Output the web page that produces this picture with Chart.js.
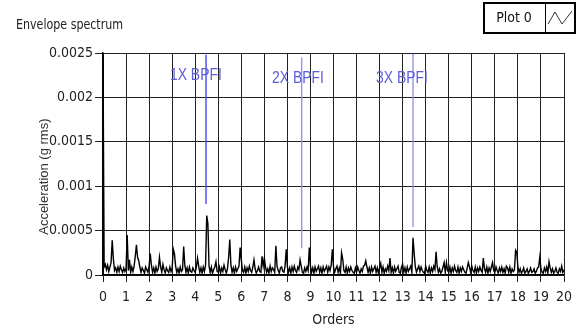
<!DOCTYPE html>
<html>
<head>
<meta charset="utf-8">
<script src="https://cdn.jsdelivr.net/npm/chart.js@4"></script>
<style>
  html, body { margin: 0; padding: 0; background: #ffffff; }
  #wrap { width: 584px; height: 329px; position: relative; }
</style>
</head>
<body>
<div id="wrap"><canvas id="c" width="584" height="329"></canvas></div>
<script>
// Spectrum resolution (orders per bin) and envelope amplitude per bin (g rms)
const ORDER_START = 0;
const ORDER_STEP = 0.05;
const AMPLITUDE = [
  245e-5, 9e-5, 12e-5, 6e-5, 11e-5, 4e-5, 9e-5, 14e-5, 39e-5, 18e-5, 5e-5, 8e-5, 3e-5, 9e-5, 4e-5, 10e-5, 6e-5, 3e-5, 8e-5, 4e-5,
  7e-5, 45e-5, 5e-5, 17e-5, 3e-5, 9e-5, 4e-5, 10e-5, 21e-5, 34e-5, 20e-5, 16e-5, 9e-5, 3e-5, 8e-5, 5e-5, 2e-5, 9e-5, 6e-5, 3e-5,
  10e-5, 24e-5, 11e-5, 3e-5, 8e-5, 2e-5, 9e-5, 4e-5, 7e-5, 20e-5, 9e-5, 3e-5, 12e-5, 6e-5, 2e-5, 8e-5, 5e-5, 3e-5, 9e-5, 4e-5,
  8e-5, 29e-5, 24e-5, 10e-5, 3e-5, 7e-5, 2e-5, 9e-5, 4e-5, 6e-5, 32e-5, 11e-5, 3e-5, 8e-5, 2e-5, 9e-5, 4e-5, 3e-5, 8e-5, 5e-5,
  3e-5, 9e-5, 19e-5, 10e-5, 3e-5, 8e-5, 2e-5, 9e-5, 4e-5, 11e-5, 67e-5, 58e-5, 10e-5, 3e-5, 9e-5, 2e-5, 6e-5, 9e-5, 15e-5, 4e-5,
  3e-5, 9e-5, 2e-5, 8e-5, 4e-5, 11e-5, 6e-5, 2e-5, 7e-5, 20e-5, 40e-5, 11e-5, 3e-5, 8e-5, 2e-5, 9e-5, 4e-5, 7e-5, 10e-5, 31e-5,
  17e-5, 5e-5, 3e-5, 9e-5, 2e-5, 8e-5, 4e-5, 10e-5, 5e-5, 3e-5, 9e-5, 17e-5, 7e-5, 2e-5, 5e-5, 9e-5, 4e-5, 3e-5, 21e-5, 10e-5,
  19e-5, 9e-5, 3e-5, 7e-5, 2e-5, 10e-5, 4e-5, 8e-5, 6e-5, 3e-5, 33e-5, 10e-5, 5e-5, 2e-5, 8e-5, 9e-5, 4e-5, 3e-5, 10e-5, 29e-5,
  9e-5, 3e-5, 8e-5, 2e-5, 9e-5, 4e-5, 10e-5, 5e-5, 3e-5, 9e-5, 6e-5, 17e-5, 10e-5, 3e-5, 2e-5, 8e-5, 4e-5, 9e-5, 5e-5, 31e-5,
  10e-5, 3e-5, 8e-5, 2e-5, 9e-5, 4e-5, 7e-5, 10e-5, 3e-5, 8e-5, 2e-5, 9e-5, 4e-5, 7e-5, 10e-5, 3e-5, 9e-5, 5e-5, 11e-5, 29e-5,
  9e-5, 3e-5, 7e-5, 10e-5, 3e-5, 8e-5, 2e-5, 25e-5, 18e-5, 5e-5, 3e-5, 9e-5, 2e-5, 8e-5, 4e-5, 9e-5, 5e-5, 3e-5, 2e-5, 8e-5,
  3e-5, 9e-5, 5e-5, 2e-5, 7e-5, 4e-5, 10e-5, 11e-5, 16e-5, 9e-5, 3e-5, 8e-5, 2e-5, 9e-5, 4e-5, 7e-5, 10e-5, 3e-5, 8e-5, 2e-5,
  8e-5, 13e-5, 3e-5, 9e-5, 2e-5, 7e-5, 4e-5, 10e-5, 5e-5, 19e-5, 3e-5, 8e-5, 2e-5, 9e-5, 4e-5, 7e-5, 10e-5, 3e-5, 2e-5, 9e-5,
  12e-5, 3e-5, 8e-5, 2e-5, 9e-5, 4e-5, 7e-5, 10e-5, 3e-5, 42e-5, 24e-5, 9e-5, 3e-5, 7e-5, 10e-5, 4e-5, 9e-5, 5e-5, 3e-5, 2e-5,
  10e-5, 5e-5, 3e-5, 9e-5, 2e-5, 8e-5, 4e-5, 10e-5, 6e-5, 26e-5, 9e-5, 3e-5, 7e-5, 2e-5, 4e-5, 9e-5, 14e-5, 3e-5, 14e-5, 5e-5,
  3e-5, 9e-5, 2e-5, 8e-5, 4e-5, 10e-5, 5e-5, 3e-5, 9e-5, 2e-5, 8e-5, 4e-5, 9e-5, 6e-5, 3e-5, 2e-5, 8e-5, 14e-5, 9e-5, 3e-5,
  10e-5, 5e-5, 3e-5, 9e-5, 2e-5, 8e-5, 4e-5, 9e-5, 5e-5, 3e-5, 19e-5, 7e-5, 3e-5, 9e-5, 2e-5, 8e-5, 4e-5, 9e-5, 14e-5, 5e-5,
  3e-5, 9e-5, 5e-5, 2e-5, 8e-5, 4e-5, 9e-5, 3e-5, 7e-5, 2e-5, 10e-5, 8e-5, 3e-5, 9e-5, 2e-5, 7e-5, 4e-5, 6e-5, 28e-5, 26e-5,
  9e-5, 3e-5, 7e-5, 2e-5, 4e-5, 8e-5, 2e-5, 4e-5, 7e-5, 2e-5, 4e-5, 8e-5, 3e-5, 4e-5, 7e-5, 2e-5, 4e-5, 8e-5, 9e-5, 20e-5,
  7e-5, 3e-5, 2e-5, 8e-5, 4e-5, 9e-5, 2e-5, 15e-5, 8e-5, 3e-5, 7e-5, 2e-5, 4e-5, 8e-5, 3e-5, 2e-5, 7e-5, 4e-5, 10e-5, 3e-5,
  6e-5
];

// BPFI harmonic markers
const MARKER_LABELS = ["1X BPFI", "2X BPFI", "3X BPFI"];
const MARKER_ORDERS = [4.47, 8.62, 13.45];
const MARKER_TOPS = [0.00248, 0.00245, 0.00249];
const MARKER_BOTTOMS = [0.00080, 0.00030, 0.00054];
const MARKER_COLORS = ["#3c3ce6", "#8e8ef0", "#8e8ef0"];
const LABEL_ORDERS = [4.03, 8.46, 12.97];
const LABEL_VALUES = [0.00225, 0.00222, 0.00222];

// Axes
const X_MIN = 0, X_MAX = 20, X_STEP = 1;
const Y_MIN = 0, Y_MAX = 0.0025, Y_STEP = 0.0005;
const TITLE = "Envelope spectrum";
const SERIES_NAME = "Plot 0";
const X_TITLE = "Orders";
const Y_TITLE = "Acceleration (g rms)";

const NARROW = "'Liberation Sans Narrow', 'DejaVu Sans Condensed', 'Liberation Sans', sans-serif";

const spectrum = AMPLITUDE.map((v, i) => ({ x: ORDER_START + i * ORDER_STEP, y: v }));

const markerSets = MARKER_ORDERS.map((o, i) => ({
  label: MARKER_LABELS[i],
  data: [{ x: o, y: MARKER_TOPS[i] }, { x: o, y: MARKER_BOTTOMS[i] }],
  borderColor: MARKER_COLORS[i],
  borderWidth: 1.3,
  pointRadius: 0,
  fill: false,
  tension: 0
}));

const decorPlugin = {
  id: 'decor',
  afterDatasetsDraw(chart) {
    const { ctx, scales: { x, y } } = chart;
    ctx.save();
    ctx.fillStyle = '#5e5ed8';
    ctx.textAlign = 'center';
    ctx.textBaseline = 'middle';
    ctx.font = "17px 'Liberation Sans', sans-serif";
    MARKER_LABELS.forEach((t, i) => {
      const px = x.getPixelForValue(LABEL_ORDERS[i]);
      const py = y.getPixelForValue(LABEL_VALUES[i]);
      ctx.save();
      ctx.translate(px, py);
      ctx.scale(0.82, 1);
      ctx.fillText(t, 0, 0);
      ctx.restore();
    });
    ctx.restore();
  },
  afterDraw(chart) {
    const { ctx } = chart;
    ctx.save();
    // chart title
    ctx.fillStyle = '#222';
    ctx.textAlign = 'left';
    ctx.textBaseline = 'middle';
    ctx.font = "14px " + NARROW;
    ctx.translate(16, 25);
    ctx.scale(0.88, 1);
    ctx.fillText(TITLE, 0, 0);
    ctx.setTransform(1, 0, 0, 1, 0, 0);
    // legend box
    ctx.fillStyle = '#fff';
    ctx.fillRect(484, 3, 91, 30);
    ctx.strokeStyle = '#000';
    ctx.lineWidth = 2;
    ctx.strokeRect(484, 3, 91, 30);
    ctx.lineWidth = 1;
    ctx.beginPath();
    ctx.moveTo(545.5, 4); ctx.lineTo(545.5, 32);
    ctx.stroke();
    ctx.fillStyle = '#111';
    ctx.textAlign = 'center';
    ctx.font = "14px " + NARROW;
    ctx.fillText(SERIES_NAME, 514, 18);
    ctx.strokeStyle = '#333';
    ctx.lineWidth = 1;
    ctx.beginPath();
    ctx.moveTo(548, 24); ctx.lineTo(555, 12); ctx.lineTo(562, 24); ctx.lineTo(572, 11);
    ctx.stroke();
    ctx.restore();
  }
};

new Chart(document.getElementById('c'), {
  type: 'line',
  data: {
    datasets: [
      {
        label: SERIES_NAME,
        data: spectrum,
        borderColor: '#000',
        borderWidth: 1.4,
        pointRadius: 0,
        fill: false,
        tension: 0
      },
      ...markerSets
    ]
  },
  options: {
    responsive: false,
    animation: false,
    events: [],
    layout: { padding: { top: 53, right: 20, bottom: 0, left: 0 } },
    plugins: { legend: { display: false }, tooltip: { enabled: false }, title: { display: false } },
    scales: {
      x: {
        type: 'linear',
        min: X_MIN, max: X_MAX,
        afterFit(s) { s.height = 54; },
        ticks: {
          stepSize: X_STEP,
          autoSkip: false,
          maxRotation: 0,
          color: '#222',
          padding: 7,
          font: { family: NARROW, size: 14 },
          callback: (v) => String(v)
        },
        grid: { color: '#222', lineWidth: 1, drawTicks: true, tickLength: 7, tickColor: '#222' },
        border: { color: '#000', width: 1.5 },
        title: { display: true, text: X_TITLE, color: '#222', font: { family: NARROW, size: 14 }, padding: { top: 0, bottom: 0 } }
      },
      y: {
        type: 'linear',
        min: Y_MIN, max: Y_MAX,
        afterFit(s) { s.width = 103; },
        ticks: {
          stepSize: Y_STEP,
          color: '#222',
          padding: 2,
          font: { family: NARROW, size: 14 },
          callback: (v) => String(Number(v.toFixed(4)))
        },
        grid: { color: '#222', lineWidth: 1, drawTicks: true, tickLength: 8, tickColor: '#222' },
        border: { color: '#000', width: 1.5 },
        title: { display: true, text: Y_TITLE + "       ", color: '#333', font: { family: "'Liberation Sans', sans-serif", size: 13 }, padding: { top: 37, bottom: 0 } }
      }
    }
  },
  plugins: [decorPlugin]
});
</script>
</body>
</html>
